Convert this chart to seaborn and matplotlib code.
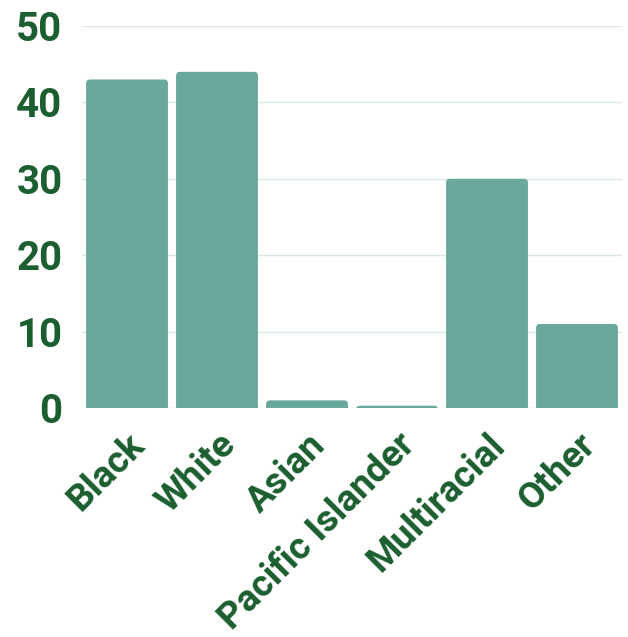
import matplotlib
matplotlib.use("Agg")
import matplotlib.pyplot as plt
from matplotlib.patches import FancyBboxPatch
import seaborn as sns
import pandas as pd

categories = ["Black", "White", "Asian", "Pacific Islander", "Multiracial", "Other"]
values = [43, 44, 1, 0.3, 30, 11]
yticks = [0, 10, 20, 30, 40, 50]

sns.set_theme(style="white")
plt.rcParams['font.family'] = ['Roboto', 'DejaVu Sans']

bar_color = "#69a89b"
text_color = "#1b5e2f"
grid_color = "#d9e8e3"

df = pd.DataFrame({"cat": categories, "val": values})

W, H = 628, 637
ax_left, ax_right, ax_top, ax_bottom = 82, 622, 26, 408
fig = plt.figure(figsize=(W / 100, H / 100), dpi=100)
ax = fig.add_axes([ax_left / W, 1 - ax_bottom / H, (ax_right - ax_left) / W, (ax_bottom - ax_top) / H])
sns.barplot(data=df, x="cat", y="val", color=bar_color, saturation=1, width=0.91, ax=ax, zorder=3)

ax.set_ylim(0, 50)
ax.set_yticks(yticks)
ax.set_xlim(-0.5, len(categories) - 0.5)

# rounded top corners: replace seaborn's rectangles with rounded boxes of the same geometry
px_per_x = (ax_right - ax_left) / len(categories)
px_per_y = (ax_bottom - ax_top) / 50
aspect = px_per_x / px_per_y
r_px = 4
for p in list(ax.patches):
    x, y = p.get_x(), p.get_y()
    w, h = p.get_width(), p.get_height()
    ext = 2.0
    r = min(r_px / px_per_x, (h + ext) / aspect / 2)
    fb = FancyBboxPatch((x, y - ext), w, h + ext,
                        boxstyle=f"round,pad=0,rounding_size={r}",
                        mutation_aspect=aspect, facecolor=bar_color,
                        edgecolor="none", zorder=3)
    p.remove()
    ax.add_patch(fb)

ax.yaxis.grid(True, color=grid_color, linewidth=1, zorder=0)
ax.set_axisbelow(True)
for s in ax.spines.values():
    s.set_visible(False)
ax.set_xlabel("")
ax.set_ylabel("")
ax.tick_params(axis="both", length=0)
ax.tick_params(axis="y", pad=14)
ax.tick_params(axis="x", pad=13.5)
for lab in ax.get_yticklabels():
    lab.set_fontsize(29)
    lab.set_fontweight("bold")
    lab.set_color(text_color)
for lab in ax.get_xticklabels():
    lab.set_fontsize(26.8)
    lab.set_fontweight("bold")
    lab.set_color(text_color)
    lab.set_rotation(45)
    lab.set_ha("right")
    lab.set_va("top")
    lab.set_rotation_mode("anchor")

fig.savefig("out.png", dpi=100)
